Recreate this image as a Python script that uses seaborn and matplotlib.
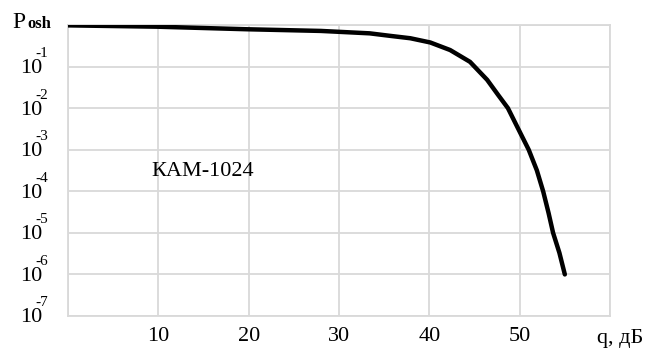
import matplotlib
matplotlib.use("Agg")
import matplotlib.pyplot as plt
import seaborn as sns
import pandas as pd

# Bit error probability vs. signal-to-noise ratio for 1024-QAM
q_db = [0.0, 9.9, 19.8, 28.0, 33.4, 35.6, 37.9, 40.1, 42.3, 44.5,
        46.4, 47.6, 48.7, 49.9, 51.0, 51.9, 52.6, 53.2, 53.7, 54.4, 55.0]
p_err = [0.98, 0.91, 0.79, 0.72, 0.63, 0.55, 0.48, 0.38, 0.25, 0.13,
         0.048, 0.021, 1.0e-2, 3.0e-3, 1.0e-3, 3.2e-4, 1.0e-4, 3.0e-5,
         1.0e-5, 3.3e-6, 1.0e-6]

x_ticks = [10, 20, 30, 40, 50]
y_exponents = [-1, -2, -3, -4, -5, -6, -7]
curve_label = "КАМ-1024"

df = pd.DataFrame({"q": q_db, "p": p_err})

sns.set_theme(style="white")
plt.rcParams["font.family"] = ["Liberation Serif", "DejaVu Serif"]
plt.rcParams["text.color"] = "black"
plt.rcParams["xtick.color"] = "black"
plt.rcParams["ytick.color"] = "black"

fig = plt.figure(figsize=(6.46, 3.51), dpi=100)
ax = fig.add_axes([68 / 646, 35 / 351, 542 / 646, 291 / 351])

grid_color = "#d9d9d9"
sns.lineplot(data=df, x="q", y="p", ax=ax, color="black", linewidth=3.2,
             zorder=3, solid_joinstyle="round", solid_capstyle="round")

ax.set_yscale("log")
ax.set_xlim(0, 60)
ax.set_ylim(1e-7, 1e0)

ax.set_xticks(range(0, 61, 10))
ax.set_xticklabels([""] + [str(t) for t in x_ticks] + [""])
ax.set_yticks([10.0 ** e for e in range(-7, 1)])
ax.set_yticklabels([])
ax.yaxis.set_minor_locator(matplotlib.ticker.NullLocator())
ax.tick_params(axis="x", length=0, pad=8, labelsize=16, labelcolor="black")
ax.tick_params(axis="y", length=0)
ax.grid(True, color=grid_color, linewidth=1.3)
for s in ax.spines.values():
    s.set_color(grid_color)
    s.set_linewidth(1.3)
ax.set_xlabel("")
ax.set_ylabel("")

# Decade labels on the left: base "10" with raised exponent
ytr = ax.get_yaxis_transform()
for e in y_exponents:
    ax.annotate("10", xy=(0, 10.0 ** e), xycoords=ytr,
                xytext=(-26, -2), textcoords="offset pixels",
                ha="right", va="center", fontsize=16, color="black")
    ax.annotate(str(e), xy=(0, 10.0 ** e), xycoords=ytr,
                xytext=(-33, 13), textcoords="offset pixels",
                ha="left", va="center", fontsize=11, color="black")

# Axis titles
ax.annotate("P", xy=(0, 1), xycoords="axes fraction",
            xytext=(-56, -3), textcoords="offset pixels",
            ha="left", va="baseline", fontsize=17, color="black")
ax.annotate("osh", xy=(0, 1), xycoords="axes fraction",
            xytext=(-41, -3), textcoords="offset pixels",
            ha="left", va="baseline", fontsize=12, fontweight="bold",
            color="black")
ax.annotate("q, дБ", xy=(1, 0), xycoords="axes fraction",
            xytext=(33, -27), textcoords="offset pixels",
            ha="right", va="baseline", fontsize=16, color="black")

ax.text(14.9, 10 ** -3.53, curve_label, ha="center", va="center",
        fontsize=16, color="black")

fig.savefig("out.png", dpi=100)
